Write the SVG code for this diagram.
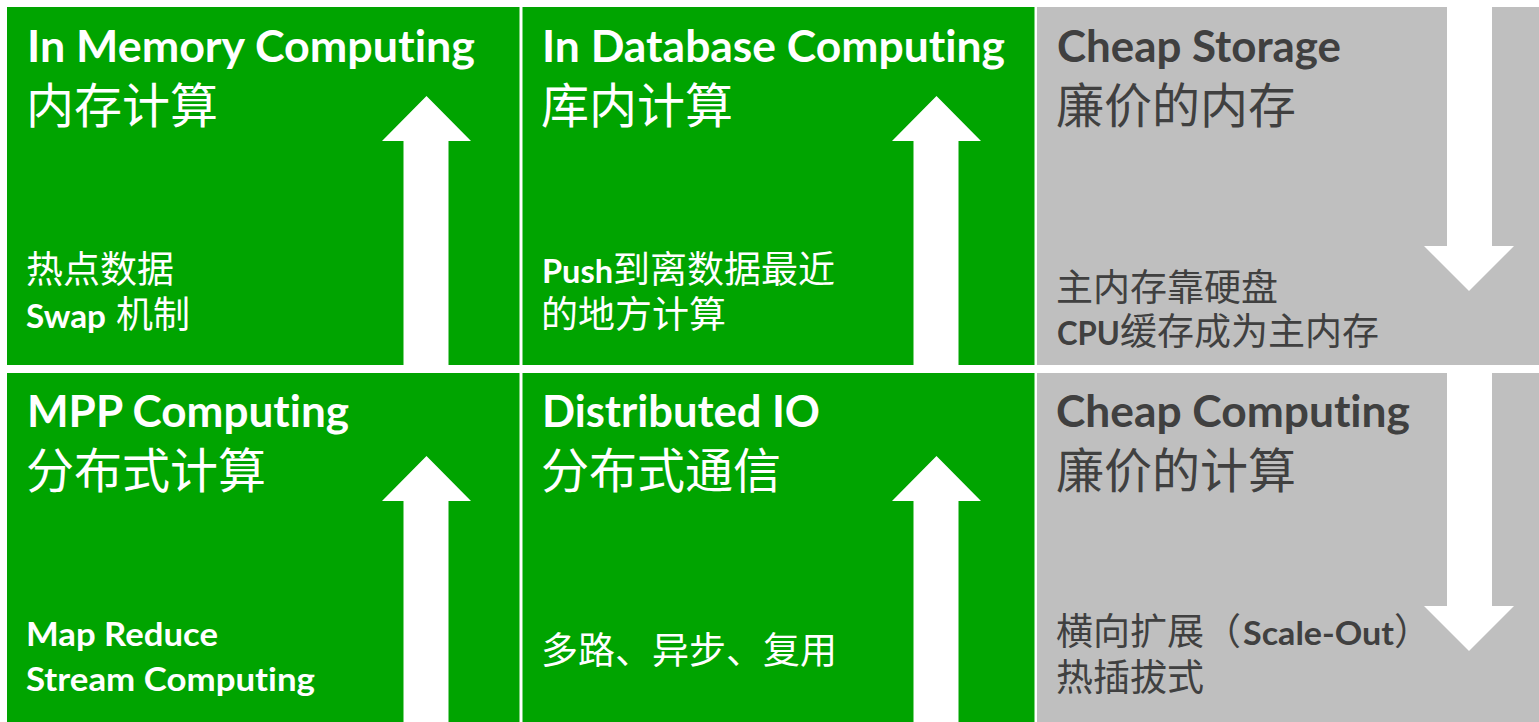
<svg xmlns="http://www.w3.org/2000/svg" width="1539" height="722" viewBox="0 0 1539 722">
  <style>
    .green { fill: #00a400; }
    .gray { fill: #bfbfbf; }
    .arrow { fill: #ffffff; }
    .en { font-family: Lato, "Noto Sans CJK SC", sans-serif; font-weight: 700; font-variant-ligatures: none; font-feature-settings: "liga" 0, "clig" 0; }
    .cjk { font-family: "Noto Sans CJK SC", sans-serif; font-weight: 400; }
    .light { fill: #ffffff; }
    .dark { fill: #404040; }
    .t-en { font-size: 43px; }
    .t-cjk { font-size: 48px; }
    .s-en { font-size: 32px; }
    .s-cjk { font-size: 37px; }
  </style>

  <rect x="0" y="0" width="1539" height="722" fill="#ffffff"/>

  <!-- top row -->
  <g id="in-memory">
    <rect class="green" x="7" y="7" width="512.5" height="358"/>
    <text class="en light t-en" x="27" y="62" textLength="448" lengthAdjust="spacingAndGlyphs">In Memory Computing</text>
    <text class="cjk light t-cjk" x="26" y="123">内存计算</text>
    <text class="cjk light s-cjk" x="26" y="283">热点数据</text>
    <text class="light s-cjk" y="328"><tspan class="en s-en" x="26" textLength="80" lengthAdjust="spacingAndGlyphs">Swap</tspan><tspan class="cjk" x="116">机制</tspan></text>
  </g>

  <g id="in-database">
    <rect class="green" x="522.5" y="7" width="512" height="358"/>
    <text class="en light t-en" x="542" y="62" textLength="463" lengthAdjust="spacingAndGlyphs">In Database Computing</text>
    <text class="cjk light t-cjk" x="541" y="123">库内计算</text>
    <text class="light s-cjk" y="283"><tspan class="en s-en" x="542" textLength="71" lengthAdjust="spacingAndGlyphs">Push</tspan><tspan class="cjk" x="613">到离数据最近</tspan></text>
    <text class="cjk light s-cjk" x="541" y="328">的地方计算</text>
  </g>

  <g id="cheap-storage">
    <rect class="gray" x="1037" y="7" width="510" height="358"/>
    <text class="en dark t-en" x="1057" y="62" textLength="284" lengthAdjust="spacingAndGlyphs">Cheap Storage</text>
    <text class="cjk dark t-cjk" x="1056" y="123">廉价的内存</text>
    <text class="cjk dark s-cjk" x="1056" y="301">主内存靠硬盘</text>
    <text class="dark s-cjk" y="345"><tspan class="en s-en" x="1057" textLength="63" lengthAdjust="spacingAndGlyphs">CPU</tspan><tspan class="cjk" x="1120">缓存成为主内存</tspan></text>
  </g>

  <!-- bottom row -->
  <g id="mpp">
    <rect class="green" x="7" y="373" width="512.5" height="360"/>
    <text class="en light t-en" x="27" y="427" textLength="322" lengthAdjust="spacingAndGlyphs">MPP Computing</text>
    <text class="cjk light t-cjk" x="26" y="488">分布式计算</text>
    <text class="en light s-en" x="26" y="646" textLength="192" lengthAdjust="spacingAndGlyphs">Map Reduce</text>
    <text class="en light s-en" x="26" y="691" textLength="289" lengthAdjust="spacingAndGlyphs">Stream Computing</text>
  </g>

  <g id="distributed-io">
    <rect class="green" x="522.5" y="373" width="512" height="360"/>
    <text class="en light t-en" x="542" y="427" textLength="278" lengthAdjust="spacingAndGlyphs">Distributed IO</text>
    <text class="cjk light t-cjk" x="541" y="488">分布式通信</text>
    <text class="cjk light s-cjk" x="541" y="664">多路、异步、复用</text>
  </g>

  <g id="cheap-computing">
    <rect class="gray" x="1037" y="373" width="510" height="360"/>
    <text class="en dark t-en" x="1056" y="427" textLength="354" lengthAdjust="spacingAndGlyphs">Cheap Computing</text>
    <text class="cjk dark t-cjk" x="1056" y="488">廉价的计算</text>
    <text class="dark s-cjk" y="645"><tspan class="cjk" x="1056">横向扩展（</tspan><tspan class="en s-en" x="1243" textLength="151" lengthAdjust="spacingAndGlyphs">Scale-Out</tspan><tspan class="cjk" x="1394">）</tspan></text>
    <text class="cjk dark s-cjk" x="1056" y="691">热插拔式</text>
  </g>

  <!-- block arrows: green columns point up, gray column points down -->
  <g id="arrows">
    <path class="arrow" d="M426.5,96 L471,141 L448.5,141 L448.5,373 L403.5,373 L403.5,141 L382,141 Z"/>
    <path class="arrow" d="M426.5,456 L471,501 L448.5,501 L448.5,722 L403.5,722 L403.5,501 L382,501 Z"/>
    <path class="arrow" d="M936.5,96 L981,141 L958.5,141 L958.5,373 L913.5,373 L913.5,141 L892,141 Z"/>
    <path class="arrow" d="M936.5,456 L981,501 L958.5,501 L958.5,722 L913.5,722 L913.5,501 L892,501 Z"/>
    <path class="arrow" d="M1447,0 L1492,0 L1492,246 L1514,246 L1469,291 L1424,246 L1447,246 Z"/>
    <path class="arrow" d="M1447,365 L1492,365 L1492,606 L1514,606 L1469,651 L1424,606 L1447,606 Z"/>
  </g>
</svg>
